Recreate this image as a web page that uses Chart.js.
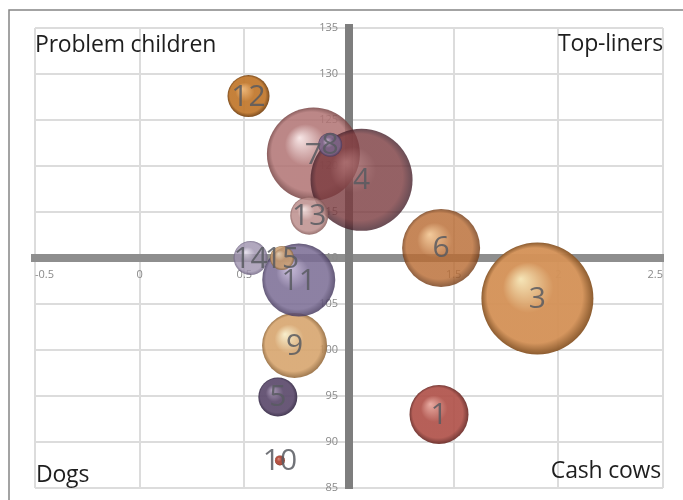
<!DOCTYPE html>
<html>
<head>
<meta charset="utf-8">
<script src="https://cdn.jsdelivr.net/npm/chart.js@4"></script>
<style>
html,body{margin:0;padding:0;background:#fff;}
#wrap{width:683px;height:500px;}
</style>
</head>
<body>
<div id="wrap"><canvas id="c" width="683" height="500"></canvas></div>
<script>
// ---- data (in drawing order) ----
const bubbleLabels = ['1', '3', '5', '6', '7', '4', '8', '9', '10', '11', '12', '13', '14', '15'];
const xValues      = [1.43, 1.90, 0.66, 1.44, 0.83, 1.06, 0.91, 0.74, 0.67, 0.76, 0.52, 0.81, 0.53, 0.68];
const yValues      = [93.0, 105.6, 94.9, 111.1, 121.3, 118.5, 122.3, 100.5, 88.0, 107.6, 127.6, 114.6, 110.0, 110.0];
const bubbleSizes  = [29.5, 56, 19.5, 39, 46.5, 51, 12, 32.5, 5, 36.5, 21, 19, 17, 12];
const xTickValues  = [-0.5, 0, 0.5, 1, 1.5, 2, 2.5];
const yTickValues  = [85, 90, 95, 100, 105, 110, 115, 120, 125, 130, 135];
const quadrantNames = ['Problem children', 'Top-liners', 'Dogs', 'Cash cows'];
const xCross = 1;
const yCross = 110;

// ---- styles (same order) ----
const bubbleColours = [
  ['#e6a59b', '#b0524a', '#6a2a26'],
  ['#f5e4b4', '#d49258', '#885628'],
  ['#a493b2', '#5c4a6c', '#362a46'],
  ['#f0bf86', '#b96c34', '#743c16'],
  ['#f6e2e2', '#b07272', '#764242'],
  ['#a86a6c', '#7a3a3e', '#44202a'],
  ['#c8b8d4', '#7a6488', '#4a385a'],
  ['#f7ecc6', '#d7a56e', '#946a3c'],
  ['#dc8a7a', '#b04838', '#6c2616'],
  ['#c6b8da', '#7a6c94', '#4a3e62'],
  ['#f0b878', '#c27a30', '#764414'],
  ['#f0dcda', '#bc8e8c', '#865a58'],
  ['#e2dbea', '#9e92ae', '#685c7c'],
  ['#f0dab6', '#c99c6c', '#8a663e']
];
const bubbleAlpha = [0.92, 0.96, 0.92, 0.82, 0.85, 0.8, 0.9, 0.9, 0.95, 0.86, 0.95, 0.85, 0.8, 0.85];
const FONT = "'Open Sans', 'Noto Sans', sans-serif";

function hexA(hex, a) {
  const n = parseInt(hex.slice(1), 16);
  return `rgba(${(n >> 16) & 255},${(n >> 8) & 255},${n & 255},${a})`;
}

function bubbleFill(ctx) {
  const i = ctx.dataIndex;
  const c = bubbleColours[i] || ['#ccc', '#999', '#666'];
  const a = bubbleAlpha[i] || 0.9;
  const chart = ctx.chart;
  const xs = chart.scales.x, ys = chart.scales.y;
  if (!xs || !ys || i === undefined) return hexA(c[1], a);
  const cx = xs.getPixelForValue(xValues[i]);
  const cy = ys.getPixelForValue(yValues[i]);
  const r = bubbleSizes[i];
  if (!isFinite(cx) || !isFinite(cy) || !isFinite(r)) return hexA(c[1], a);
  const g = chart.ctx.createRadialGradient(cx - r * 0.3, cy - r * 0.35, 0, cx, cy, r);
  g.addColorStop(0, hexA(c[0], a));
  g.addColorStop(0.45, hexA(c[1], a));
  g.addColorStop(0.85, hexA(c[1], a));
  g.addColorStop(1, hexA(c[2], a));
  return g;
}

const framePlugin = {
  id: 'frame',
  beforeDraw(chart) {
    const ctx = chart.ctx;
    ctx.save();
    ctx.fillStyle = '#fff';
    ctx.fillRect(0, 0, chart.width, chart.height);
    ctx.strokeStyle = '#858585';
    ctx.lineWidth = 1.5;
    ctx.beginPath();
    ctx.moveTo(9, chart.height + 2);
    ctx.lineTo(9, 10);
    ctx.lineTo(chart.width + 2, 10);
    ctx.stroke();
    ctx.restore();
  }
};

const textPlugin = {
  id: 'bubbleText',
  afterDatasetsDraw(chart) {
    const ctx = chart.ctx;
    const meta = chart.getDatasetMeta(0);
    ctx.save();
    ctx.font = `400 30px ${FONT}`;
    ctx.fillStyle = 'rgba(88,90,96,0.85)';
    ctx.textAlign = 'center';
    ctx.textBaseline = 'middle';
    meta.data.forEach((el, i) => {
      ctx.fillText(bubbleLabels[i], el.x, el.y + 1);
    });
    // quadrant names
    const a = chart.chartArea;
    ctx.font = `400 23px ${FONT}`;
    ctx.fillStyle = '#1e1e1e';
    ctx.textBaseline = 'alphabetic';
    ctx.letterSpacing = '-0.2px';
    ctx.textAlign = 'left';
    ctx.fillText(quadrantNames[0], a.left, a.top + 24);
    ctx.fillText(quadrantNames[2], a.left + 1, a.bottom - 6);
    ctx.textAlign = 'right';
    ctx.fillText(quadrantNames[1], a.right, a.top + 23);
    ctx.fillText(quadrantNames[3], a.right - 2, a.bottom - 10);
    ctx.restore();
  }
};

new Chart(document.getElementById('c'), {
  type: 'bubble',
  data: {
    datasets: [{
      data: bubbleLabels.map((l, i) => ({ x: xValues[i], y: yValues[i], r: bubbleSizes[i] })),
      backgroundColor: bubbleFill,
      borderWidth: 0
    }]
  },
  options: {
    responsive: false,
    devicePixelRatio: 1,
    animation: false,
    events: [],
    layout: { autoPadding: false, padding: { left: 35, right: 20, top: 28, bottom: 12 } },
    plugins: { legend: { display: false }, tooltip: { enabled: false } },
    scales: {
      x: {
        type: 'linear',
        min: xTickValues[0],
        max: xTickValues[xTickValues.length - 1],
        position: { y: yCross },
        afterBuildTicks: s => { s.ticks = xTickValues.map(v => ({ value: v })); },
        ticks: {
          align: 'inner',
          padding: 10,
          color: '#8a8a8a',
          font: { family: FONT, size: 11 },
          callback: v => (v === xCross ? '' : String(v))
        },
        grid: { color: '#dcdcdc', lineWidth: 2, drawTicks: false },
        border: { display: true, color: '#8e8e8e', width: 8 }
      },
      y: {
        type: 'linear',
        min: yTickValues[0],
        max: yTickValues[yTickValues.length - 1],
        position: { x: 0.9475 },
        afterBuildTicks: s => { s.ticks = yTickValues.map(v => ({ value: v })); },
        ticks: {
          align: 'inner',
          padding: 0,
          color: '#8a8a8a',
          font: { family: FONT, size: 11 },
          callback: v => String(v)
        },
        grid: { color: '#dcdcdc', lineWidth: 2, drawTicks: false },
        border: { display: false }
      },
      y2: {
        type: 'linear',
        axis: 'y',
        min: yTickValues[0],
        max: yTickValues[yTickValues.length - 1],
        position: { x: xCross },
        ticks: { display: false },
        grid: { drawOnChartArea: false, drawTicks: false },
        border: { display: true, color: '#7e7e7e', width: 8 }
      }
    }
  },
  plugins: [framePlugin, textPlugin]
});
</script>
</body>
</html>
